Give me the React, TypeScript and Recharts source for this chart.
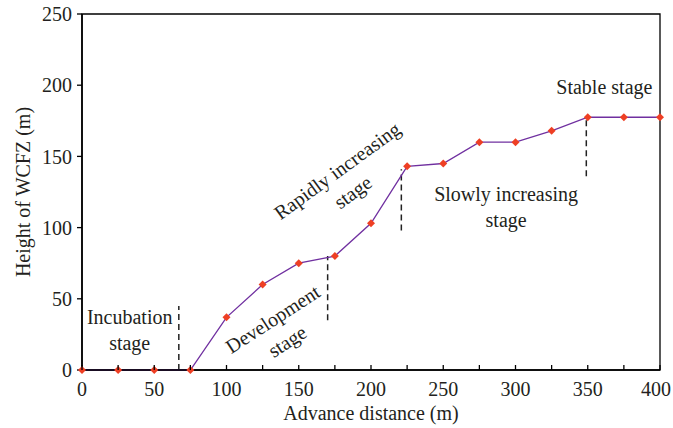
import { LineChart, Line, XAxis, YAxis, ReferenceLine, ReferenceArea, ReferenceDot } from 'recharts'

const distance = [0, 25, 50, 75, 100, 125, 150, 175, 200, 225, 250, 275, 300, 325, 350, 375, 400]
const heightWCFZ = [0, 0, 0, 0, 37, 60, 75, 80, 103, 143, 145, 160, 160, 168, 177.5, 177.5, 177.5]
const xTicks = [0, 25, 50, 75, 100, 125, 150, 175, 200, 225, 250, 275, 300, 325, 350, 375, 400]
const yTicks = [0, 50, 100, 150, 200, 250]

// stage boundaries (dashed), in data units
const boundaryX = [67, 170, 221, 349]
const boundaryFrom = [0, 35, 98, 136]
const boundaryTo = [45, 80, 141, 177.5]

// stage names, anchored at block centre
const stageText = [['Incubation', 'stage'], ['Development', 'stage'], ['Rapidly increasing', 'stage'], ['Slowly increasing', 'stage'], ['Stable stage']]
const stageX = [33, 137, 182, 293.5, 361.5]
const stageY = [28, 28, 132.5, 114.5, 198.5]
const stageAngle = [0, -33, -36, 0, 0]

const data = distance.map((d, i) => ({ d, h: heightWCFZ[i] }))

const FONT = 'Liberation Serif'
const INK = '#231f20'
const txt = { fontFamily: FONT, fontSize: 20, fill: INK }

const Diamond = (props: any) => {
  const { cx, cy } = props
  if (cx == null || cy == null) return null
  const s = 4
  return <polygon points={`${cx},${cy - s} ${cx + s},${cy} ${cx},${cy + s} ${cx - s},${cy}`} fill="#ee3f24" />
}

const XTick = (props: any) => {
  const { x, y, payload } = props
  // keep the last label inside the 673px frame
  const tx = Math.min(x, 656)
  return (
    <g>
      <line x1={x} x2={x} y1={y} y2={y - 5} stroke="#000" strokeWidth={1.3} />
      {payload.value % 50 === 0 && (
        <text x={tx} y={y + 26} textAnchor="middle" style={txt}>
          {payload.value}
        </text>
      )}
    </g>
  )
}

const stageLabel = (lines: string[], angle: number) => (props: any) => {
  const { viewBox } = props
  const cx = viewBox.x + viewBox.width / 2
  const cy = viewBox.y + viewBox.height / 2
  const lh = 26.5
  const start = -((lines.length - 1) * lh) / 2
  return (
    <text x={cx} y={cy} textAnchor="middle" style={txt} transform={`rotate(${angle}, ${cx}, ${cy})`}>
      {lines.map((t, i) => (
        <tspan key={i} x={cx} y={cy + start + i * lh} dominantBaseline="central">
          {t}
        </tspan>
      ))}
    </text>
  )
}

export default function App() {
  return (
    <div style={{ position: 'absolute', left: 0, top: 0, background: '#fff', fontFamily: FONT }}>
      <LineChart width={673} height={428} data={data} margin={{ top: 14, right: 13, bottom: 0, left: 0 }}>
        <XAxis
          dataKey="d"
          type="number"
          domain={[0, 400]}
          ticks={xTicks}
          interval={0}
          height={58}
          tickLine={false}
          tickSize={0}
          tickMargin={0}
          tick={<XTick />}
          axisLine={{ stroke: '#000', strokeWidth: 1.6 }}
          label={{
            content: (p: any) => {
              const vb = p.viewBox
              const cx = vb.x + vb.width / 2
              return (
                <text x={cx} y={420} textAnchor="middle" style={txt}>
                  Advance distance (m)
                </text>
              )
            },
          }}
        />
        <YAxis
          type="number"
          domain={[0, 250]}
          ticks={yTicks}
          width={82}
          tickSize={5}
          tickMargin={5}
          tickLine={{ stroke: '#000', strokeWidth: 1.3 }}
          axisLine={{ stroke: '#000', strokeWidth: 1.6 }}
          tick={{ style: txt, fontSize: 20, fill: INK }}
          label={{
            content: (p: any) => {
              const vb = p.viewBox
              const cy = vb.y + vb.height / 2
              return (
                <text x={30} y={cy} textAnchor="middle" style={txt} transform={`rotate(-90, 30, ${cy})`}>
                  Height of WCFZ (m)
                </text>
              )
            },
          }}
        />
        <ReferenceArea x1={0} x2={400} y1={0} y2={250} fill="none" stroke="#000" strokeWidth={1.3} />
        {boundaryX.map((x, i) => (
          <ReferenceLine
            key={i}
            segment={[{ x, y: boundaryFrom[i] }, { x, y: boundaryTo[i] }]}
            stroke="#222"
            strokeWidth={1.5}
            strokeDasharray="6 4"
          />
        ))}
        {stageText.map((lines, i) => (
          <ReferenceDot key={i} x={stageX[i]} y={stageY[i]} r={1} fill="none" stroke="none" label={{ content: stageLabel(lines, stageAngle[i]) }} />
        ))}
        <Line
          type="linear"
          dataKey="h"
          stroke="#7030a0"
          strokeWidth={1.3}
          dot={<Diamond />}
          activeDot={false}
          isAnimationActive={false}
        />
      </LineChart>
    </div>
  )
}
